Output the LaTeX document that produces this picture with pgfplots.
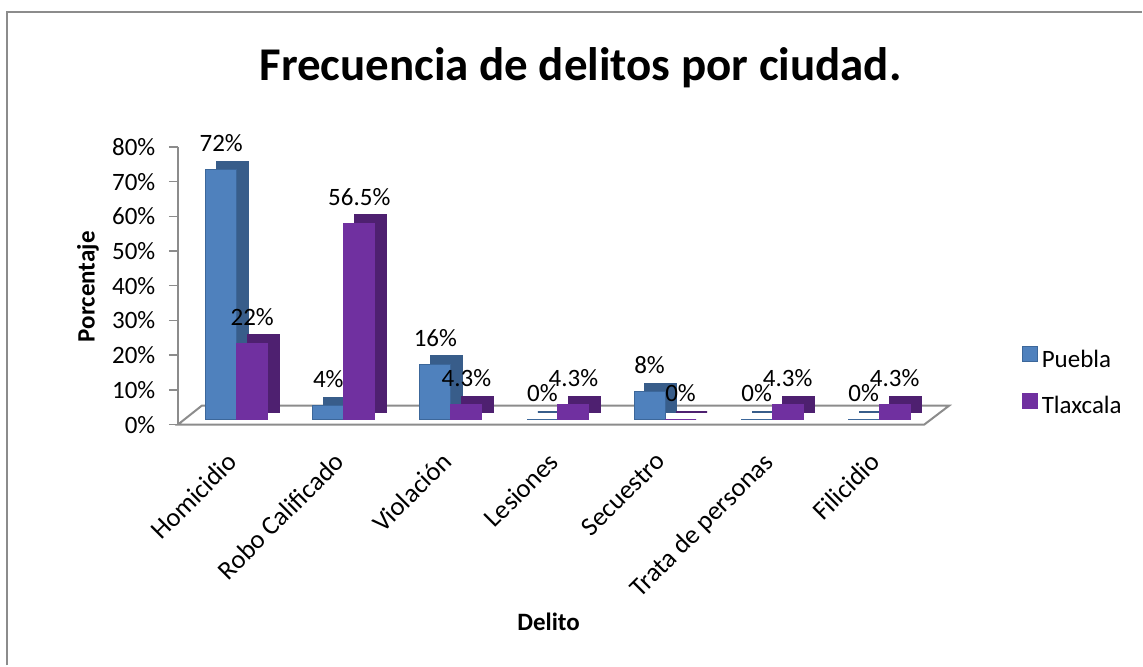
\documentclass[border=0pt]{standalone}
\usepackage{fontspec}
\setmainfont{Carlito}
\usepackage{pgfplots}
\pgfplotsset{compat=1.18}

\definecolor{pueblaF}{HTML}{4F81BD}
\definecolor{pueblaE}{HTML}{3C679A}
\definecolor{pueblaS}{HTML}{385D8A}
\definecolor{tlaxF}{HTML}{7030A0}
\definecolor{tlaxS}{HTML}{4E2070}
\definecolor{frame}{HTML}{8C8C8C}

\begin{document}
\begin{tikzpicture}
\path (0,0) rectangle (1143pt,666pt);
\draw[frame, line width=2pt] (7pt,0) -- (7pt,654pt) -- (1143pt,654pt);

\begin{axis}[
  at={(178pt,241pt)}, anchor=south west,
  scale only axis, width=747pt, height=278pt,
  xmin=-0.55, xmax=6.42, ymin=0, ymax=80,
  clip=false,
  axis x line=none, axis y line*=left,
  axis line style={frame, line width=1.5pt, -},
  xtick={0,...,6},
  ytick={0,10,...,80},
  yticklabel={\pgfmathprintnumber{\tick}\%},
  yticklabel style={xshift=-10pt},
  tick align=outside, major tick length=9pt,
  ytick style={frame, line width=1.5pt},
  /pgf/number format/assume math mode=true,
  /pgf/number format/.cd, fixed, precision=1, /pgfplots/.cd,
  tick label style={font=\fontsize{25}{30}\selectfont},
  etiqueta/.style={nodes near coords={\pgfmathprintnumber{\pgfplotspointmeta}\%},
    every node near coord/.append style={font=\fontsize{25}{30}\selectfont, black, yshift=14pt, xshift=#1}},
  legend style={at={(1.1265,0.155)}, anchor=west, draw=none, fill=none,
    font=\fontsize{25}{30}\selectfont, row sep=22pt,
    legend cell align=left},
  legend image code/.code={\draw[#1] (0pt,-7.5pt) rectangle (15pt,7.5pt); \path (17pt,0pt);},
]
% piso del grafico
\draw[frame, line width=2pt, fill=white] (axis cs:-0.55,0) -- (axis cs:6.42,0) -- ++(25pt,19pt) -- ([shift={(24pt,19pt)}]axis cs:-0.55,0) -- cycle;

% Puebla
\addplot[ybar, bar width=31pt, bar shift=-4.5pt, yshift=13pt, fill=pueblaS, draw=pueblaS, line width=2pt, forget plot]
  coordinates {(0,72) (1,4) (2,16) (3,0) (4,8) (5,0) (6,0)};
\addplot[ybar, bar width=31pt, bar shift=-15.5pt, yshift=5pt, fill=pueblaF, draw=pueblaE, line width=1pt, etiqueta=-15.5pt]
  coordinates {(0,72) (1,4) (2,16) (3,0) (4,8) (5,0) (6,0)};
\addlegendentry{Puebla}
% Tlaxcala
\addplot[ybar, bar width=31pt, bar shift=26.5pt, yshift=13pt, fill=tlaxS, draw=tlaxS, line width=2pt, forget plot]
  coordinates {(0,22) (1,56.5) (2,4.3) (3,4.3) (4,0) (5,4.3) (6,4.3)};
\addplot[ybar, bar width=31pt, bar shift=15.5pt, yshift=5pt, fill=tlaxF, draw=tlaxF, line width=1pt, etiqueta=15.5pt]
  coordinates {(0,22) (1,56.5) (2,4.3) (3,4.3) (4,0) (5,4.3) (6,4.3)};
\addlegendentry{Tlaxcala}
\end{axis}

\node[font=\fontsize{25}{30}\selectfont\bfseries, rotate=90] at (88pt,379pt) {Porcentaje};
\node[font=\fontsize{25}{30}\selectfont\bfseries] at (549pt,44pt) {Delito};
\node[font=\fontsize{47}{56}\selectfont\bfseries] at (581pt,598pt) {Frecuencia de delitos por ciudad.};

% etiquetas de categorias
\foreach \name [count=\i from 0] in {Homicidio,Robo Calificado,Violación,Lesiones,Secuestro,Trata de personas,Filicidio}
  \node[font=\fontsize{26.5}{31}\selectfont, rotate=45, anchor=north east, inner sep=0pt]
    at (226pt+\i*107.2pt, 215pt) {\name};
\end{tikzpicture}
\end{document}
